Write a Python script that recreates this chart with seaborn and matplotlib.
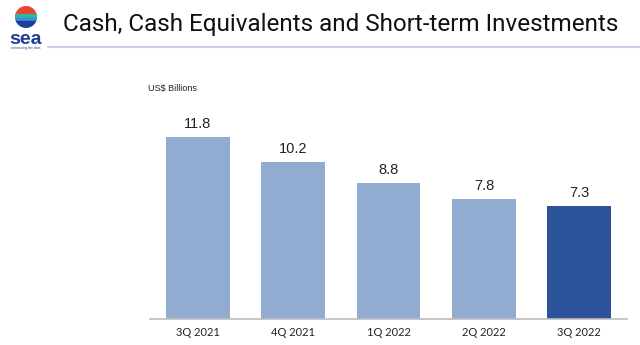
import matplotlib
matplotlib.use("Agg")
import matplotlib.pyplot as plt
import matplotlib.patches as mpatches
import seaborn as sns
import pandas as pd

quarters = ["3Q 2021", "4Q 2021", "1Q 2022", "2Q 2022", "3Q 2022"]
cash_bn = [11.8, 10.2, 8.8, 7.8, 7.3]
bar_colors = ["#91abd1", "#91abd1", "#91abd1", "#91abd1", "#2c529a"]

sns.set_theme(style="white")
plt.rcParams["font.family"] = ["Liberation Sans", "DejaVu Sans"]

W, H = 640, 345
fig = plt.figure(figsize=(W / 100, H / 100), dpi=100)
fig.patch.set_facecolor("white")

ax = fig.add_axes([150 / W, (H - 319) / H, (627 - 150) / W, (319 - 100) / H])
df = pd.DataFrame({"quarter": quarters, "value": cash_bn})
sns.barplot(data=df, x="quarter", y="value", hue="quarter",
            palette=bar_colors, width=0.67, legend=False, ax=ax,
            saturation=1, edgecolor="none")
ax.set_xlim(-0.5, 4.5)
ax.set_ylim(0, 14.2)
for s in ["top", "right", "left"]:
    ax.spines[s].set_visible(False)
ax.spines["bottom"].set_color("#bdbdbd")
ax.spines["bottom"].set_linewidth(1.2)
ax.set_yticks([])
ax.set_xlabel("")
ax.set_ylabel("")
ax.tick_params(axis="x", length=0, pad=6)
for lbl in ax.get_xticklabels():
    lbl.set_fontsize(8)
    lbl.set_color("#222222")
    lbl.set_family(["Lato", "DejaVu Sans"])

for i, v in enumerate(cash_bn):
    ax.text(i, v + 0.4, f"{v:.1f}", ha="center", va="bottom",
            fontsize=10.5, color="#222222")

# Header
fig.text(63 / W, 1 - 25 / H, "Cash, Cash Equivalents and Short-term Investments",
         fontsize=17.5, color="#111111", va="center", ha="left",
         family=["Roboto", "DejaVu Sans"])
fig.add_artist(plt.Line2D([48 / W, 1.0], [1 - 47 / H, 1 - 47 / H],
                          color="#c5d0e6", linewidth=1.5))
fig.text(148 / W, 1 - 89 / H, "US$ Billions", fontsize=6.5, color="#222222",
         va="center", ha="left")

# Logo
lax = fig.add_axes([15 / W, 1 - 28 / H, 22 / W, 22 / H])
lax.set_xlim(-1, 1)
lax.set_ylim(-1, 1)
lax.set_aspect("equal")
lax.axis("off")
circle = mpatches.Circle((0, 0), 1, transform=lax.transData)
bands = [(0.3, "#e8452c"), (-0.05, "#2fb5a0"), (-0.4, "#3a8fd8"), (-1.1, "#1b3f9c")]
tops = [1.1, 0.3, -0.05, -0.4]
for (lo, col), hi in zip(bands, tops):
    r = mpatches.Rectangle((-1.1, lo), 2.2, hi - lo, color=col)
    lax.add_patch(r)
    r.set_clip_path(circle)
fig.text(26 / W, 1 - 43.5 / H, "sea", fontsize=14, fontweight="bold",
         color="#1d3f8f", ha="center", va="baseline")
fig.text(26 / W, 1 - 48 / H, "connecting the dots", fontsize=2.4,
         color="#1d3f8f", ha="center", va="center")

fig.savefig("out.png", dpi=100)
